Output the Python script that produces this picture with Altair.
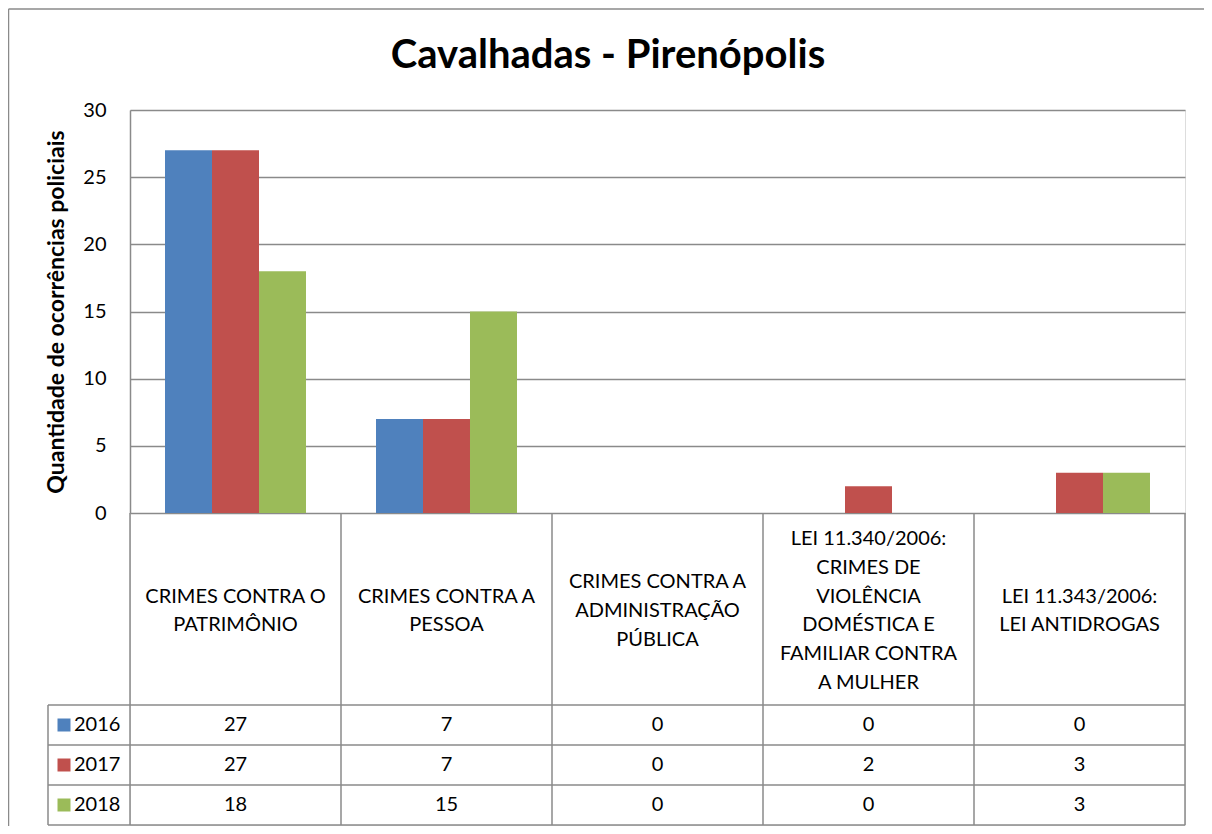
import altair as alt
import pandas as pd

# ---- data ----
categories = [
    "CRIMES CONTRA O PATRIMÔNIO",
    "CRIMES CONTRA A PESSOA",
    "CRIMES CONTRA A ADMINISTRAÇÃO PÚBLICA",
    "LEI 11.340/2006: CRIMES DE VIOLÊNCIA DOMÉSTICA E FAMILIAR CONTRA A MULHER",
    "LEI 11.343/2006: LEI ANTIDROGAS",
]
category_lines = [
    ["CRIMES CONTRA O", "PATRIMÔNIO"],
    ["CRIMES CONTRA A", "PESSOA"],
    ["CRIMES CONTRA A", "ADMINISTRAÇÃO", "PÚBLICA"],
    ["LEI 11.340/2006:", "CRIMES DE", "VIOLÊNCIA", "DOMÉSTICA E", "FAMILIAR CONTRA", "A MULHER"],
    ["LEI 11.343/2006:", "LEI ANTIDROGAS"],
]
years = ["2016", "2017", "2018"]
values_2016 = [27, 7, 0, 0, 0]
values_2017 = [27, 7, 0, 2, 3]
values_2018 = [18, 15, 0, 0, 3]
colors = ["#4F81BD", "#C0504D", "#9BBB59"]
y_ticks = [0, 5, 10, 15, 20, 25, 30]

title_text = "Cavalhadas - Pirenópolis"
y_title = "Quantidade de ocorrências policiais"

# ---- tables built from the arrays ----
series = {"2016": values_2016, "2017": values_2017, "2018": values_2018}
rows = []
for yr in years:
    for c, v in zip(categories, series[yr]):
        rows.append({"cat": c, "year": yr, "value": v, "label": str(v)})
df = pd.DataFrame(rows)

head_rows = []
for c, lines in zip(categories, category_lines):
    n = len(lines)
    for i, line in enumerate(lines):
        head_rows.append({"cat": c, "line": line, "pos": i - (n - 1) / 2})
df_head = pd.DataFrame(head_rows)
df_years = pd.DataFrame({"year": years})
df_one = pd.DataFrame({"k": [0]})

FONT = "Lato"
GRID = "#8a8a8a"
W, H = 1055, 715
ZERO = 403          # pixel of value 0 inside plot
HEAD_BOTTOM = 595   # bottom of header row
HEAD_MID = 501
LINE_H = 28.7
LEGCOL = -82        # left edge of legend column
FS = 20

x_scale = alt.Scale(domain=categories, paddingInner=0, paddingOuter=0)
color_scale = alt.Scale(domain=years, range=colors)
row_scale = alt.Scale(type="band", domain=years, range=[HEAD_BOTTOM, H], paddingInner=0, paddingOuter=0)

bars = alt.Chart(df).mark_bar(size=47).encode(
    x=alt.X("cat:N", scale=x_scale, axis=None),
    xOffset=alt.XOffset("year:N", scale=alt.Scale(domain=years, paddingInner=0, paddingOuter=0.745)),
    y=alt.Y("value:Q", scale=alt.Scale(domain=[0, 30], range=[ZERO, 0], nice=False),
            axis=alt.Axis(values=y_ticks, title=y_title, grid=True, gridColor=GRID, gridWidth=1.5,
                          domainColor=GRID, domainWidth=1.5, ticks=False, labelPadding=24,
                          labelFont=FONT, labelFontSize=FS, labelColor="#000000",
                          titleFont=FONT, titleFontSize=23, titleFontWeight="bold",
                          titleColor="#000000", titlePadding=14)),
    color=alt.Color("year:N", scale=color_scale, legend=None),
)

header = alt.Chart(df_head).mark_text(font=FONT, fontSize=FS, baseline="middle", align="center",
                                      color="#000000").encode(
    x=alt.X("cat:N", scale=x_scale, axis=None, bandPosition=0.5),
    y=alt.Y("pos:Q", axis=None,
            scale=alt.Scale(domain=[-1, 1], range=[HEAD_MID - LINE_H, HEAD_MID + LINE_H], nice=False, zero=False)),
    text="line:N",
)

cells = alt.Chart(df).mark_text(font=FONT, fontSize=FS, baseline="middle", align="center",
                                color="#000000").encode(
    x=alt.X("cat:N", scale=x_scale, axis=None, bandPosition=0.5),
    y=alt.Y("year:N", scale=row_scale, axis=None, bandPosition=0.5),
    text="label:N",
)

vlines = alt.Chart(pd.DataFrame({"cat": categories})).mark_rule(color=GRID, strokeWidth=1.5).encode(
    x=alt.X("cat:N", scale=x_scale, axis=None, bandPosition=0),
    y=alt.value(ZERO), y2=alt.value(H),
)
right_line = alt.Chart(df_one).mark_rule(color=GRID, strokeWidth=1.5).encode(
    x=alt.value(W), y=alt.value(ZERO), y2=alt.value(H),
)
hlines = alt.Chart(df_years).mark_rule(color=GRID, strokeWidth=1.5).encode(
    y=alt.Y("year:N", scale=row_scale, axis=None, bandPosition=0),
    x=alt.value(LEGCOL), x2=alt.value(W),
)
bottom_line = alt.Chart(df_one).mark_rule(color=GRID, strokeWidth=1.5).encode(
    y=alt.value(H), x=alt.value(LEGCOL), x2=alt.value(W),
)
leg_left = alt.Chart(df_one).mark_rule(color=GRID, strokeWidth=1.5).encode(
    x=alt.value(LEGCOL), y=alt.value(HEAD_BOTTOM), y2=alt.value(H),
)
swatch = alt.Chart(df_years).mark_square(size=169, opacity=1).encode(
    x=alt.value(LEGCOL + 16),
    y=alt.Y("year:N", scale=row_scale, axis=None, bandPosition=0.5),
    color=alt.Color("year:N", scale=color_scale, legend=None),
)
year_text = alt.Chart(df_years).mark_text(font=FONT, fontSize=FS, align="left", baseline="middle",
                                          color="#000000").encode(
    x=alt.value(LEGCOL + 26),
    y=alt.Y("year:N", scale=row_scale, axis=None, bandPosition=0.5),
    text="year:N",
)
title = alt.Chart(df_one).mark_text(text=title_text, font=FONT, fontSize=40, fontWeight="bold",
                                    align="center", baseline="alphabetic", color="#000000").encode(
    x=alt.value(478), y=alt.value(-42),
)
frame_top = alt.Chart(df_one).mark_rule(color="#8a8a8a", strokeWidth=1.5).encode(
    y=alt.value(-101), x=alt.value(-121.5), x2=alt.value(1100),
)
frame_left = alt.Chart(df_one).mark_rule(color="#8a8a8a", strokeWidth=1.5).encode(
    x=alt.value(-121.5), y=alt.value(-101), y2=alt.value(740),
)

chart = alt.layer(
    bars, header, cells, vlines, right_line, hlines, bottom_line, leg_left, swatch, year_text,
    title, frame_top, frame_left,
).resolve_scale(y="independent").properties(
    width=W, height=H,
    autosize=alt.AutoSizeParams(type="none"),
    padding={"left": 122, "top": 102, "right": 19, "bottom": 1},
).configure_view(stroke=None).configure(background="white")

chart.save("out.html", embed_options={"renderer": "svg", "actions": False})
